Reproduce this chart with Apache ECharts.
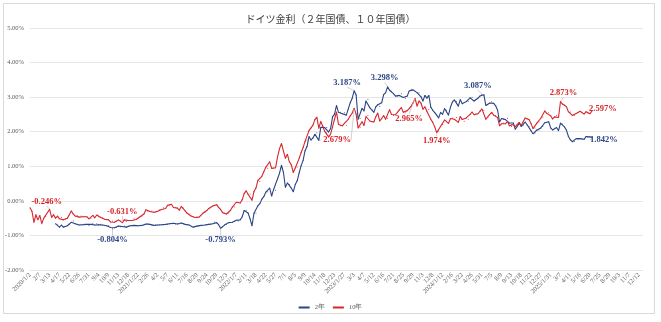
<!DOCTYPE html>
<html>
<head>
<meta charset="utf-8">
<script src="https://cdn.jsdelivr.net/npm/echarts@6/dist/echarts.min.js"></script>
<style>
  html, body { margin: 0; padding: 0; background: #fff; }
  #chart { width: 661px; height: 322px; }
</style>
</head>
<body>
<div id="chart"></div>
<script>
// Weekly observation dates: first print 2020/1/2, then every Friday through 2025/12/26
const weekDates = ['2020/1/2'];
for (let d = new Date(2020, 0, 10), i = 1; i <= 312; i++, d.setDate(d.getDate() + 7)) {
  weekDates.push(d.getFullYear() + '/' + (d.getMonth() + 1) + '/' + d.getDate());
}

// German 10-year Bund yield (%), weekly
const bund10y = [
  // 2020
  -0.20, -0.30, -0.62, -0.40, -0.55, -0.42, -0.66, -0.50, -0.45, -0.33,
  -0.246, -0.48, -0.40, -0.50, -0.44, -0.52, -0.48, -0.55, -0.52, -0.50,
  -0.40, -0.29, -0.38, -0.44, -0.42, -0.47, -0.44, -0.46, -0.45, -0.46,
  -0.52, -0.50, -0.42, -0.49, -0.41, -0.46, -0.48, -0.49, -0.53, -0.54,
  -0.55, -0.61, -0.58, -0.62, -0.60, -0.55, -0.58, -0.631, -0.55, -0.60,
  -0.57, -0.57,
  // 2021
  -0.57, -0.52, -0.54, -0.52, -0.46, -0.44, -0.38, -0.26, -0.30, -0.31,
  -0.29, -0.33, -0.33, -0.30, -0.26, -0.25, -0.20, -0.22, -0.13, -0.12,
  -0.10, -0.19, -0.19, -0.21, -0.27, -0.16, -0.21, -0.29, -0.36, -0.38,
  -0.44, -0.46, -0.48, -0.47, -0.47, -0.43, -0.36, -0.33, -0.28, -0.22,
  -0.20, -0.15, -0.12, -0.11, -0.19, -0.25, -0.34, -0.36, -0.38, -0.35,
  -0.28, -0.18, -0.18,
  // 2022
  -0.04, -0.05, -0.06, 0.03, 0.21, 0.29, 0.19, 0.20, 0.02, 0.27,
  0.37, 0.59, 0.56, 0.71, 0.84, 0.97, 0.94, 1.13, 0.94, 0.95,
  0.96, 1.27, 1.51, 1.66, 1.44, 1.23, 1.35, 1.13, 1.04, 0.82,
  0.95, 0.98, 1.23, 1.40, 1.54, 1.72, 1.76, 2.03, 2.11, 2.19,
  2.35, 2.42, 2.10, 2.30, 2.16, 2.01, 1.97, 1.85, 1.93, 2.15,
  2.36, 2.57,
  // 2023
  2.21, 2.17, 2.17, 2.24, 2.19, 2.36, 2.46, 2.54, 2.679, 2.51,
  2.11, 2.13, 2.29, 2.18, 2.44, 2.47, 2.31, 2.29, 2.28, 2.43,
  2.54, 2.31, 2.38, 2.47, 2.36, 2.39, 2.64, 2.50, 2.47, 2.49,
  2.56, 2.63, 2.70, 2.56, 2.55, 2.61, 2.67, 2.74, 2.84, 2.965,
  2.74, 2.89, 2.83, 2.65, 2.72, 2.59, 2.64, 2.36, 2.27, 2.14,
  1.974, 2.02,
  // 2024
  2.16, 2.21, 2.34, 2.30, 2.24, 2.38, 2.40, 2.36, 2.41, 2.27,
  2.44, 2.35, 2.30, 2.40, 2.36, 2.50, 2.57, 2.49, 2.52, 2.52,
  2.59, 2.66, 2.62, 2.36, 2.41, 2.50, 2.56, 2.48, 2.47, 2.41,
  2.17, 2.23, 2.25, 2.23, 2.30, 2.17, 2.15, 2.21, 2.14, 2.21,
  2.27, 2.18, 2.29, 2.40, 2.37, 2.35, 2.24, 2.09, 2.11, 2.25,
  2.29, 2.39,
  // 2025
  2.42, 2.60, 2.53, 2.55, 2.46, 2.37, 2.43, 2.47, 2.41, 2.873,
  2.80, 2.77, 2.73, 2.58, 2.57, 2.47, 2.47, 2.53, 2.56, 2.59,
  2.56, 2.51, 2.58, 2.54, 2.52, 2.597
];

// German 2-year Schatz yield (%), weekly; series begins in April 2020
const schatz2y = [
  // 2020
  null, null, null, null, null, null, null, null, null, null,
  null, null, null, -0.66, -0.70, -0.76, -0.70, -0.76, -0.74, -0.72,
  -0.67, -0.62, -0.58, -0.66, -0.68, -0.70, -0.68, -0.69, -0.67, -0.68,
  -0.71, -0.68, -0.65, -0.70, -0.66, -0.69, -0.68, -0.70, -0.71, -0.72,
  -0.72, -0.77, -0.804, -0.78, -0.77, -0.73, -0.75, -0.74, -0.73, -0.76,
  -0.73, -0.72,
  // 2021
  -0.71, -0.71, -0.72, -0.72, -0.71, -0.71, -0.70, -0.67, -0.66, -0.68,
  -0.69, -0.71, -0.70, -0.70, -0.70, -0.69, -0.69, -0.68, -0.68, -0.66,
  -0.65, -0.65, -0.67, -0.67, -0.66, -0.64, -0.66, -0.68, -0.69, -0.70,
  -0.75, -0.76, -0.74, -0.73, -0.72, -0.71, -0.71, -0.70, -0.69, -0.68,
  -0.68, -0.66, -0.61, -0.63, -0.69, -0.793, -0.75, -0.70, -0.68, -0.63,
  -0.62, -0.62, -0.60,
  // 2022
  -0.56, -0.58, -0.55, -0.46, -0.28, -0.27, -0.35, -0.52, -0.72, -0.36,
  -0.35, -0.14, -0.08, 0.05, 0.12, 0.25, 0.26, 0.37, 0.14, 0.33,
  0.31, 0.64, 0.80, 1.03, 0.82, 0.39, 0.52, 0.47, 0.37, 0.26,
  0.47, 0.58, 0.81, 1.02, 1.17, 1.45, 1.57, 1.86, 1.76, 1.82,
  1.93, 1.97, 1.75, 2.13, 2.13, 2.12, 2.12, 1.99, 2.09, 2.43,
  2.51, 2.76,
  // 2023
  2.56, 2.56, 2.52, 2.55, 2.48, 2.66, 2.84, 2.97, 3.187, 3.06,
  2.36, 2.38, 2.68, 2.60, 2.89, 2.94, 2.69, 2.63, 2.56, 2.72,
  2.78, 2.74, 2.84, 3.07, 3.13, 3.298, 3.20, 3.17, 3.10, 3.03,
  3.03, 3.05, 3.10, 2.99, 2.97, 3.03, 3.18, 3.23, 3.21, 3.17,
  3.13, 3.13, 3.01, 2.89, 3.05, 2.97, 3.05, 2.71, 2.62, 2.55,
  2.48, 2.40,
  // 2024
  2.56, 2.50, 2.67, 2.62, 2.48, 2.71, 2.86, 2.92, 2.88, 2.74,
  2.93, 2.81, 2.85, 2.87, 2.88, 2.98, 3.00, 2.89, 2.94, 2.97,
  3.03, 3.087, 3.07, 2.76, 2.78, 2.83, 2.87, 2.82, 2.75, 2.62,
  2.28, 2.38, 2.37, 2.35, 2.39, 2.25, 2.20, 2.25, 2.07, 2.15,
  2.25, 2.15, 2.19, 2.28, 2.20, 2.16, 2.03, 1.94, 1.96, 2.05,
  2.05, 2.11,
  // 2025
  2.15, 2.26, 2.27, 2.29, 2.11, 2.05, 2.10, 2.12, 2.03, 2.25,
  2.22, 2.14, 2.05, 1.87, 1.77, 1.71, 1.72, 1.80, 1.78, 1.80,
  1.78, 1.78, 1.86, 1.83, 1.85, 1.842
];

const yTicks = { min: -2, max: 5, step: 1 };

// Annotated weeks (index into weekDates) and where each value label sits relative to its point
const notes10y = { 10: [-3, -8], 47: [0, -11], 165: [-17, 32], 196: [-6, 20], 207: [0, 8], 270: [3, -9], 286: [11, -2] };
const notes2y  = { 42: [0, 11], 97: [0, 11.5], 165: [-7, -8], 182: [-3, -9], 230: [-4, -8.5], 286: [12, 3] };

const BLUE = '#2b4585';
const RED = '#d7262c';

function withNotes(values, notes) {
  return values.map((v, i) => notes[i] ? { value: v, label: { show: true } } : v);
}

function noteLayout(notes) {
  return function (p) {
    const o = notes[p.dataIndex];
    return o ? { dx: o[0], dy: o[1] } : {};
  };
}

function lineSeries(name, values, notes, color) {
  return {
    name: name,
    type: 'line',
    data: withNotes(values, notes),
    showSymbol: true,
    showAllSymbol: true,
    symbol: 'circle',
    symbolSize: 1,
    connectNulls: false,
    lineStyle: { color: color, width: 1.1 },
    itemStyle: { color: color },
    label: {
      show: false,
      position: 'inside',
      formatter: p => p.value.toFixed(3) + '%',
      color: color,
      fontFamily: 'Liberation Serif',
      fontWeight: 'bold',
      fontSize: 8.5
    },
    labelLine: { show: true, lineStyle: { color: '#c4c4c4', width: 0.8 } },
    labelLayout: noteLayout(notes),
    emphasis: { disabled: true },
    animation: false
  };
}

const chart = echarts.init(document.getElementById('chart'), null, { renderer: 'canvas' });

chart.setOption({
  backgroundColor: '#ffffff',
  animation: false,
  title: {
    text: 'ドイツ金利（２年国債、１０年国債）',
    left: 'center',
    top: 9,
    textStyle: { fontFamily: 'Noto Sans CJK JP', fontSize: 10, fontWeight: 'normal', color: '#404040' }
  },
  graphic: [{
    type: 'rect',
    shape: { x: 3.5, y: 3.5, width: 651, height: 310 },
    style: { fill: 'none', stroke: '#d9d9d9', lineWidth: 1 },
    silent: true
  }],
  legend: {
    bottom: 6,
    left: 'center',
    icon: 'rect',
    itemWidth: 11,
    itemHeight: 2,
    itemGap: 8,
    textStyle: { fontFamily: 'Liberation Serif', fontSize: 6.5, color: '#595959' },
    data: ['2年', '10年']
  },
  grid: { left: 30, right: 18, top: 28, bottom: 52, containLabel: false },
  xAxis: {
    type: 'category',
    data: weekDates,
    boundaryGap: false,
    axisLine: { show: false },
    axisTick: { show: false },
    splitLine: { show: false },
    axisLabel: {
      interval: 4,
      rotate: 45,
      margin: 4,
      fontFamily: 'Liberation Serif',
      fontSize: 6.5,
      color: '#595959',
      formatter: function (value, index) {
        if (index === 0) return value;
        const prev = weekDates[index - 5];
        if (prev && prev.split('/')[0] !== value.split('/')[0]) return value;
        return value.split('/').slice(1).join('/');
      }
    }
  },
  yAxis: {
    type: 'value',
    min: yTicks.min,
    max: yTicks.max,
    interval: yTicks.step,
    axisLine: { show: false },
    axisTick: { show: false },
    splitLine: { lineStyle: { color: '#e6e6e6', width: 1 } },
    axisLabel: {
      margin: 6,
      fontFamily: 'Liberation Serif',
      fontSize: 6.5,
      color: '#595959',
      formatter: v => v.toFixed(2) + '%'
    }
  },
  series: [
    lineSeries('2年', schatz2y, notes2y, BLUE),
    lineSeries('10年', bund10y, notes10y, RED)
  ]
});
</script>
</body>
</html>
